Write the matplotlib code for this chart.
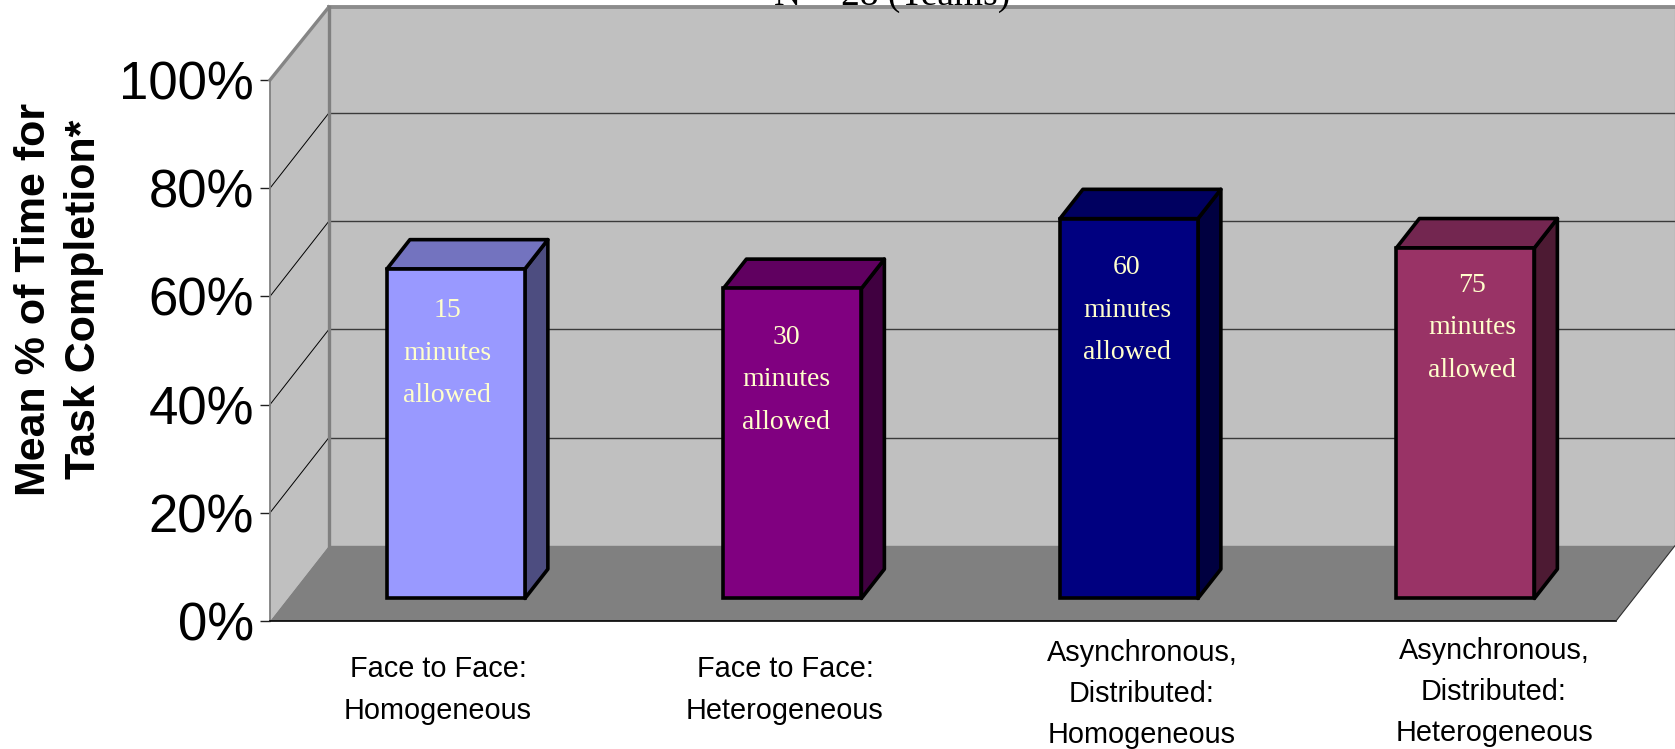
"""Mean % of time for task completion, drawn as an Excel style 3D column chart."""
import matplotlib
matplotlib.use("Agg")
import matplotlib.pyplot as plt

W, H = 1675, 749

# data
categories = ["Face to Face:\nHomogeneous", "Face to Face:\nHeterogeneous",
              "Asynchronous,\nDistributed:\nHomogeneous",
              "Asynchronous,\nDistributed:\nHeterogeneous"]
values = [60.9, 57.3, 70.2, 64.8]
bar_labels = ["15\nminutes\nallowed", "30\nminutes\nallowed",
              "60\nminutes\nallowed", "75\nminutes\nallowed"]
yticks = [0, 20, 40, 60, 80, 100]
ytick_labels = ["0%", "20%", "40%", "60%", "80%", "100%"]

front_colors = ["#9999FF", "#800080", "#000080", "#993366"]
top_colors = ["#7373BF", "#600060", "#000060", "#732650"]
side_colors = ["#4D4D80", "#400040", "#000040", "#4D1A33"]

# layout (pixels in the saved image, and depth of the 3D box in data units)
DX = 0.175
DY = 13.9
BACK_TOP = 99.6
BAR_W = 0.41
BAR_NEAR = 0.30
BAR_FAR = 0.69
cat_label_xy = [(438, 690), (785, 690), (1142, 694), (1494, 692)]
bar_label_xy = [(447, 353), (786, 380), (1127, 310), (1472, 328)]


def project(x, y, depth):
    """Move a point from the front plane of the box towards the back wall."""
    return x + depth * DX, y + depth * DY


def face(ax, corners, **kw):
    xs, ys = zip(*[project(*c) for c in corners])
    ax.fill(xs, ys, clip_on=False, **kw)


def edge(ax, p0, p1, **kw):
    x0, y0 = project(*p0)
    x1, y1 = project(*p1)
    ax.plot([x0, x1], [y0, y1], clip_on=False, solid_capstyle="projecting", **kw)


plt.rcParams["font.family"] = ["Liberation Sans", "DejaVu Sans"]
fig = plt.figure(figsize=(W / 100, H / 100), dpi=100)
ax = fig.add_axes([270 / W, (H - 621) / H, (1616 - 270) / W, (621 - 80) / H])
ax.set_xlim(-0.5, 3.5)
ax.set_ylim(0, 100)
ax.patch.set_visible(False)
for side in ["top", "right", "left", "bottom"]:
    ax.spines[side].set_visible(False)

L, R = -0.5, 3.5

# walls and floor
face(ax, [(L, 0, 1), (R, 0, 1), (R, BACK_TOP, 1), (L, BACK_TOP, 1)], fc="#C0C0C0", ec="none", zorder=1)
face(ax, [(L, 0, 0), (L, 0, 1), (L, BACK_TOP, 1), (L, 100, 0)], fc="#C0C0C0", ec="none", zorder=1)
face(ax, [(L, 0, 0), (R, 0, 0), (R, 0, 1), (L, 0, 1)], fc="#808080", ec="none", zorder=1)

# gridlines
for t in yticks[1:-1]:
    edge(ax, (L, t, 1), (R, t, 1), color="#3A3A3A", lw=1.0, zorder=2)
    edge(ax, (L, t, 0), (L, t, 1), color="#000000", lw=0.7, zorder=2)

# box outline
edge(ax, (L, 100, 0), (L, BACK_TOP, 1), color="#858585", lw=2.4, zorder=3)
edge(ax, (L, BACK_TOP, 1), (R, BACK_TOP, 1), color="#8C8C8C", lw=2.8, zorder=3)
edge(ax, (L, 0, 1), (L, BACK_TOP, 1), color="#808080", lw=2.4, zorder=3)
edge(ax, (L, 0, 0), (L, 100, 0), color="#808080", lw=1.3, zorder=3)
edge(ax, (L, 0, 0), (R, 0, 0), color="#000000", lw=1.2, zorder=3)
edge(ax, (R, 0, 0), (R, 0, 1), color="#303030", lw=0.8, zorder=3)
edge(ax, (R, 0, 1), (R, BACK_TOP, 1), color="#808080", lw=0.8, zorder=3)

# bars
for i, v in enumerate(values):
    x0 = i - BAR_W / 2
    x1 = i + BAR_W / 2
    face(ax, [(x1, 0, BAR_NEAR), (x1, 0, BAR_FAR), (x1, v, BAR_FAR), (x1, v, BAR_NEAR)],
         fc=side_colors[i], ec="black", lw=2.6, zorder=4, joinstyle="round")
    face(ax, [(x0, v, BAR_NEAR), (x1, v, BAR_NEAR), (x1, v, BAR_FAR), (x0, v, BAR_FAR)],
         fc=top_colors[i], ec="black", lw=2.6, zorder=4, joinstyle="round")
    ax.bar(i + BAR_NEAR * DX, v, width=BAR_W, bottom=BAR_NEAR * DY, color=front_colors[i],
           edgecolor="black", linewidth=2.6, zorder=5, clip_on=False)

# axis
ax.set_xticks([])
ax.set_yticks(yticks)
ax.set_yticklabels(ytick_labels, fontsize=38)
ax.tick_params(axis="y", length=7.5, width=1.0, pad=4, color="#202020")

# text
for (px, py), label in zip(bar_label_xy, bar_labels):
    fig.text(px / W, 1 - py / H, label, color="#FFFFCC", family="Liberation Serif", fontsize=20,
             ha="center", va="center", linespacing=1.9, zorder=8)

for (px, py), label in zip(cat_label_xy, categories):
    fig.text(px / W, 1 - py / H, label, color="black", fontsize=20.8,
             ha="center", va="center", linespacing=1.61, zorder=8)

fig.text(59 / W, 1 - 299 / H, "Mean % of Time for\nTask Completion*", rotation=90, fontweight="bold",
         fontsize=31, ha="center", va="center", linespacing=1.31, multialignment="center")
fig.text(892 / W, 1 - 5 / H, "N = 28 (Teams)", family="Liberation Serif", fontsize=27,
         ha="center", va="baseline", zorder=8)

fig.savefig("out.png", dpi=100, facecolor="white")
